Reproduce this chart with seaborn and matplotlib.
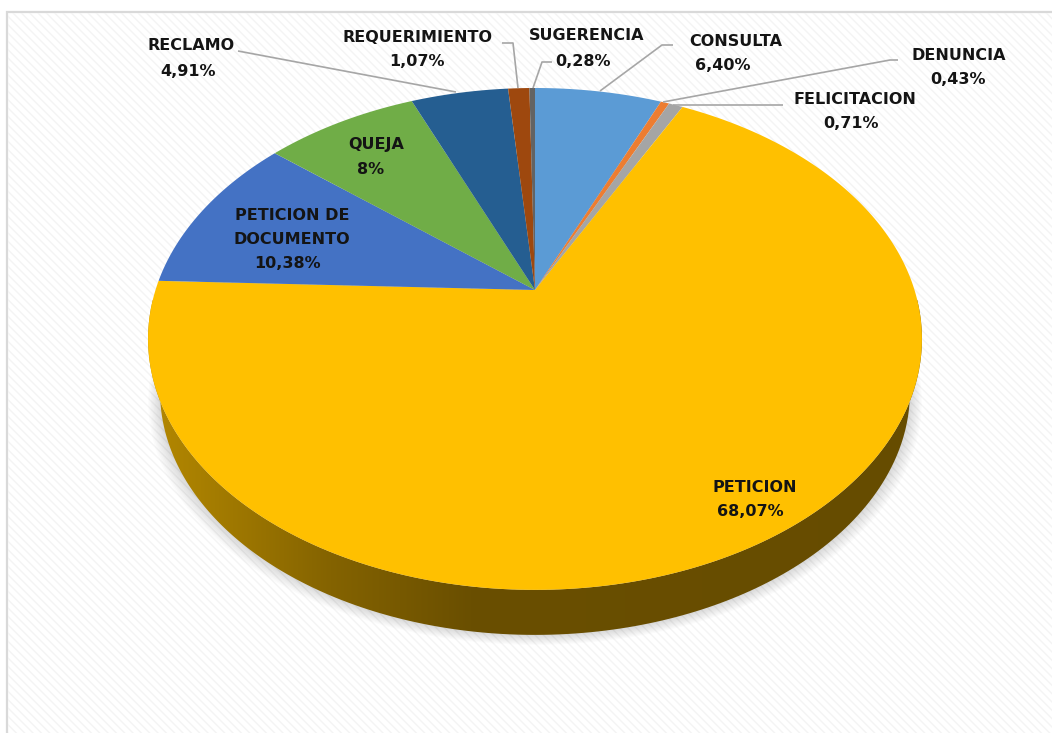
import numpy as np
import matplotlib
matplotlib.use("Agg")
import matplotlib.pyplot as plt
import seaborn as sns
from matplotlib.transforms import Transform, Affine2D
from matplotlib.path import Path
from matplotlib.patches import Rectangle, Polygon

# ---------------- data ----------------
categories = ["CONSULTA", "DENUNCIA", "FELICITACION", "PETICION",
              "PETICION DE DOCUMENTO", "QUEJA", "RECLAMO", "REQUERIMIENTO",
              "SUGERENCIA"]
values = [6.40, 0.43, 0.71, 68.07, 10.38, 7.75, 4.91, 1.07, 0.28]
pct_labels = ["6,40%", "0,43%", "0,71%", "68,07%", "10,38%", "8%",
              "4,91%", "1,07%", "0,28%"]
name_lines = [["CONSULTA"], ["DENUNCIA"], ["FELICITACION"], ["PETICION"],
              ["PETICION DE", "DOCUMENTO"], ["QUEJA"], ["RECLAMO"],
              ["REQUERIMIENTO"], ["SUGERENCIA"]]

# ---------------- styles / layout ----------------
colors = ["#5B9BD5", "#ED7D31", "#A5A5A5", "#FFC000", "#4472C4",
          "#70AD47", "#255E91", "#9E480E", "#636363"]
# label line centres in pixels (x, y of first line), line step 24 px
label_pos = [(736, 42), (959, 56), (855, 99), (755, 487), (292, 216),
             (376, 145), (191, 46), (417, 38), (587, 36)]
pct_pos = [(723, 66), (958, 80), (851, 123), (750, 511), (288, 264),
           (371, 170), (188, 72), (417, 62), (583, 61)]
leaders = {
    "RECLAMO": [(238, 51), (456, 92)],
    "REQUERIMIENTO": [(502, 43), (513, 43), (518, 88)],
    "SUGERENCIA": [(552, 62), (542, 62), (533, 88)],
    "CONSULTA": [(673, 45), (662, 45), (600, 91)],
    "DENUNCIA": [(898, 60), (890, 60), (663, 102)],
    "FELICITACION": [(783, 105), (673, 105)],
}

sns.set_theme(style="white")
plt.rcParams["font.family"] = ["DejaVu Sans"]
plt.rcParams["hatch.linewidth"] = 1.0

W, H = 1052, 733
fig = plt.figure(figsize=(W / 100, H / 100), dpi=100, facecolor="white")
ax = fig.add_axes([0, 0, 1, 1])

# perspective view of the unit disk (3D pie top face)
CX, CY, A, B, C = 535.0, 290.0, 379.5, 241.4, 0.195
K, VY = 0.969, 2042.0


class PerspectiveDisk(Transform):
    input_dims = 2
    output_dims = 2
    is_separable = False
    has_inverse = False

    def __init__(self, k=1.0, vy=0.0):
        super().__init__()
        self.k = k
        self.vy = vy

    def transform_non_affine(self, values):
        v = np.asarray(values, float).reshape(-1, 2)
        x, y = v[:, 0], v[:, 1]
        w = 1.0 + C * y
        X = CX + A * x / w
        Y = CY - B * y / w
        X = CX + self.k * (X - CX)
        Y = self.vy + self.k * (Y - self.vy)
        return np.column_stack([X, Y])

    def transform_path_non_affine(self, path):
        s = 2000.0
        polys = path.to_polygons(transform=Affine2D().scale(s), closed_only=True)
        verts, codes = [], []
        for p in polys:
            t = self.transform_non_affine(np.asarray(p) / s)
            verts.append(t)
            codes += [Path.MOVETO] + [Path.LINETO] * (len(t) - 2) + [Path.CLOSEPOLY]
        return Path(np.vstack(verts), codes)


top_tr = PerspectiveDisk(1.0, 0.0)
bot_tr = PerspectiveDisk(K, VY)

# background with border and faint diagonal hatching
ax.add_patch(Rectangle((7, 12), 1200, 900, facecolor="white",
                       edgecolor="#D9D9D9", lw=1.6, zorder=0))
ax.add_patch(Rectangle((8, 13), 1200, 900, fill=False, hatch="\\\\\\\\",
                       edgecolor="#F4F4F4", lw=0, zorder=0.5))

# pie wedges (angles from matplotlib's pie)
wedges, _ = ax.pie(values, colors=colors, startangle=90, counterclock=False,
                   radius=1.0, center=(0, 0), frame=True,
                   wedgeprops=dict(linewidth=0))
for w in wedges:
    w.set_transform(top_tr + ax.transData)
    w.set_zorder(3)

# side of the 3D pie (front part belongs to PETICION)
pet = wedges[categories.index("PETICION")]
t1 = max(pet.theta1, -185.0)
t2 = min(pet.theta2, 10.0)
ang = np.radians(np.linspace(t1, t2, 300))
disk = np.column_stack([np.cos(ang), np.sin(ang)])
top_edge = top_tr.transform_non_affine(disk)
bot_edge = bot_tr.transform_non_affine(disk)
side_poly = np.vstack([top_edge, bot_edge[::-1]])

# soft shadow under the pie
full = np.radians(np.linspace(0, 360, 400))
bot_full = bot_tr.transform_non_affine(np.column_stack([np.cos(full), np.sin(full)]))
for i in range(1, 10):
    sh = bot_full.copy()
    sh[:, 0] = CX + (sh[:, 0] - CX) * (1 + 0.0035 * i)
    sh[:, 1] = sh[:, 1] + 1.1 * i
    ax.add_patch(Polygon(sh, closed=True, facecolor="black", alpha=0.014,
                         lw=0, zorder=1))

side_patch = Polygon(side_poly, closed=True, facecolor="none", lw=0,
                     transform=ax.transData)
ax.add_patch(side_patch)
xs = np.linspace(140, 935, 500)
stops_x = [140, 200, 330, 470, 935]
stops_rgb = np.array([[182, 137, 0], [168, 127, 0], [132, 99, 0],
                      [106, 79, 0], [102, 76, 0]]) / 255.0
grad = np.stack([np.interp(xs, stops_x, stops_rgb[:, j]) for j in range(3)], axis=-1)
img = ax.imshow(grad[np.newaxis, :, :], extent=(140, 935, 660, 300),
                aspect="auto", interpolation="bilinear", zorder=2)
img.set_clip_path(side_patch)

# leader lines
for name, pts in leaders.items():
    pts = np.array(pts)
    ax.plot(pts[:, 0], pts[:, 1], color="#A6A6A6", lw=1.2, zorder=4,
            solid_capstyle="butt")

# labels
txt_kw = dict(ha="center", va="center", fontsize=11.5, fontweight="bold",
              color="#141414", zorder=5)
for lines, (lx, ly), pct, (px, py) in zip(name_lines, label_pos, pct_labels, pct_pos):
    for j, ln in enumerate(lines):
        ax.text(lx, ly + 24 * j, ln, **txt_kw)
    ax.text(px, py, pct, **txt_kw)

ax.set_xlim(0, W)
ax.set_ylim(H, 0)
ax.set_aspect("auto")
ax.axis("off")

fig.savefig("out.png", dpi=100, facecolor="white")
